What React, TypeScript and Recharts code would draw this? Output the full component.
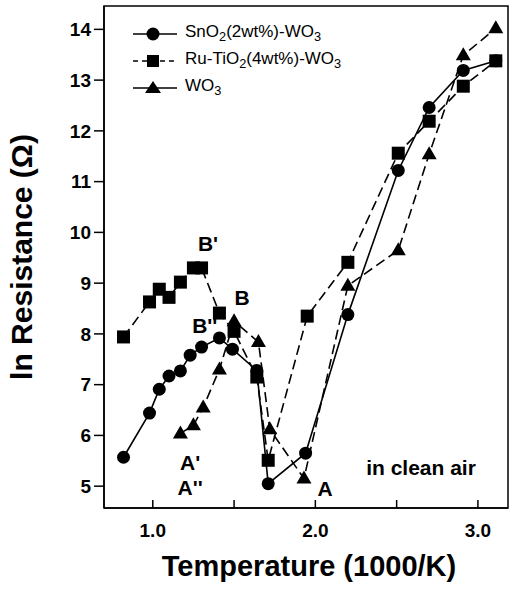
import React from 'react';
import { ComposedChart, Line, Scatter, XAxis, YAxis, ReferenceArea, Legend, Label } from 'recharts';

// SnO2(2wt%)-WO3
const snX = [0.82, 0.98, 1.04, 1.1, 1.17, 1.23, 1.3, 1.41, 1.49, 1.64, 1.71, 1.94, 2.2, 2.51, 2.7, 2.91, 3.11];
const snY = [5.57, 6.44, 6.91, 7.17, 7.27, 7.58, 7.74, 7.92, 7.7, 7.28, 5.05, 5.65, 8.38, 11.22, 12.46, 13.19, 13.38];

// Ru-TiO2(4wt%)-WO3
const ruX = [0.82, 0.98, 1.04, 1.1, 1.17, 1.25, 1.3, 1.41, 1.5, 1.64, 1.71, 1.95, 2.2, 2.51, 2.7, 2.91, 3.11];
const ruY = [7.94, 8.63, 8.88, 8.72, 9.02, 9.3, 9.3, 8.41, 8.05, 7.15, 5.51, 8.35, 9.41, 11.56, 12.19, 12.88, 13.38];

// WO3
const woX = [1.17, 1.25, 1.31, 1.41, 1.5, 1.65, 1.72, 1.93, 2.2, 2.51, 2.7, 2.91, 3.11];
const woY = [6.04, 6.2, 6.55, 7.3, 8.25, 7.84, 6.12, 5.15, 8.95, 9.65, 11.54, 13.49, 14.02];

const xTicks = [1.0, 1.5, 2.0, 2.5, 3.0];
const xLabelled = [1.0, 2.0, 3.0];
const yTicks = [5, 6, 7, 8, 9, 10, 11, 12, 13, 14];

// annotations in the plot
const noteX = [1.34, 1.55, 1.32, 1.23, 1.23, 2.06, 2.65];
const noteY = [9.79, 8.72, 8.17, 5.47, 4.98, 4.96, 5.37];
const noteText = ["B'", 'B', "B''", "A'", "A''", 'A', 'in clean air'];

const X_DOMAIN = [0.7, 3.185];
const Y_DOMAIN = [4.57, 14.46];

const FONT = '"Liberation Sans", Arial, Helvetica, sans-serif';

const zip = (xs: number[], ys: number[]) => xs.map((x, i) => ({ x, y: ys[i] }));
const snData = zip(snX, snY);
const ruData = zip(ruX, ruY);
const woData = zip(woX, woY);
const notes = noteX.map((x, i) => ({ x, y: noteY[i], t: noteText[i] }));

const CircleDot = (p: any) => (
  <circle key={`c${p.index}`} cx={p.cx} cy={p.cy} r={6.5} fill="#000" />
);
const SquareDot = (p: any) => (
  <rect key={`s${p.index}`} x={p.cx - 6.5} y={p.cy - 6.5} width={13} height={13} fill="#000" />
);
const TriDot = (p: any) => (
  <path
    key={`t${p.index}`}
    d={`M${p.cx},${p.cy - 8} L${p.cx + 7.5},${p.cy + 5} L${p.cx - 7.5},${p.cy + 5} Z`}
    fill="#000"
  />
);

const XTick = ({ x, y, payload }: any) => (
  <g>
    <line x1={x} x2={x} y1={y} y2={y - 8} stroke="#000" strokeWidth={1.5} />
    {xLabelled.includes(payload.value) && (
      <text x={x} y={y + 29} textAnchor="middle" fontFamily={FONT} fontWeight="bold" fontSize={19} fill="#000">
        {payload.value.toFixed(1)}
      </text>
    )}
  </g>
);

const legendItems = [
  { key: 'sn', dash: undefined, icon: 'circle', label: <>SnO<sub>2</sub>(2wt%)-WO<sub>3</sub></> },
  { key: 'ru', dash: '5 4', icon: 'square', label: <>Ru-TiO<sub>2</sub>(4wt%)-WO<sub>3</sub></> },
  { key: 'wo', dash: undefined, icon: 'triangle', label: <>WO<sub>3</sub></> },
];

const LegendBox = () => (
  <div style={{ fontFamily: FONT, fontSize: 17, color: '#000' }}>
    {legendItems.map((it) => (
      <div key={it.key} style={{ display: 'flex', alignItems: 'center', height: 27 }}>
        <svg width={44} height={16} style={{ marginRight: 8 }}>
          <line x1={0} x2={44} y1={8} y2={8} stroke="#000" strokeWidth={1.5} strokeDasharray={it.dash} />
          {it.icon === 'circle' && <circle cx={20} cy={8} r={6.5} fill="#000" />}
          {it.icon === 'square' && <rect x={14} y={2} width={12} height={12} fill="#000" />}
          {it.icon === 'triangle' && <path d="M20,1 L28,13 L12,13 Z" fill="#000" />}
        </svg>
        <span style={{ lineHeight: 1, whiteSpace: 'nowrap' }}>{it.label}</span>
      </div>
    ))}
  </div>
);

export default function App() {
  return (
    <div style={{ position: 'absolute', left: 0, top: 0, background: '#fff' }}>
      <style>{'sub{font-size:0.75em;vertical-align:-0.3em;}'}</style>
      <ComposedChart width={513} height={590} margin={{ top: 6, right: 5, bottom: 0, left: 0 }}>
        <XAxis
          type="number"
          dataKey="x"
          domain={X_DOMAIN}
          allowDataOverflow
          ticks={xTicks}
          tick={<XTick />}
          tickLine={false}
          tickSize={0}
          tickMargin={0}
          axisLine={{ stroke: '#000', strokeWidth: 1.5 }}
          height={82}
        >
          <Label
            content={({ viewBox }: any) => (
              <text
                x={viewBox.x + viewBox.width / 2 + 3}
                y={viewBox.y + 68}
                textAnchor="middle"
                fontFamily={FONT}
                fontWeight="bold"
                fontSize={29}
                fill="#000"
              >
                Temperature (1000/K)
              </text>
            )}
          />
        </XAxis>
        <YAxis
          type="number"
          dataKey="y"
          domain={Y_DOMAIN}
          allowDataOverflow
          ticks={yTicks}
          width={104}
          tickSize={10}
          tickMargin={3}
          tick={{ fill: '#000', fontSize: 19, fontWeight: 'bold', fontFamily: FONT }}
          tickLine={{ stroke: '#000', strokeWidth: 1.5 }}
          axisLine={{ stroke: '#000', strokeWidth: 1.5 }}
        >
          <Label
            content={({ viewBox }: any) => (
              <text
                transform={`translate(${viewBox.x + 32}, ${viewBox.y + viewBox.height / 2}) rotate(-90)`}
                textAnchor="middle"
                fontFamily={FONT}
                fontWeight="bold"
                fontSize={30}
                fill="#000"
              >
                ln Resistance (Ω)
              </text>
            )}
          />
        </YAxis>
        <ReferenceArea
          x1={X_DOMAIN[0]}
          x2={X_DOMAIN[1]}
          y1={Y_DOMAIN[0]}
          y2={Y_DOMAIN[1]}
          fill="none"
          stroke="#000"
          strokeWidth={1.5}
          fillOpacity={0}
        />
        <Legend
          content={<LegendBox />}
          layout="horizontal"
          verticalAlign="middle"
          align="center"
          wrapperStyle={{ position: 'absolute', top: 20, left: 133, width: 'auto' }}
        />
        <Line
          data={snData}
          dataKey="y"
          name="SnO2(2wt%)-WO3"
          type="linear"
          stroke="#000"
          strokeWidth={1.6}
          dot={CircleDot}
          activeDot={false}
          isAnimationActive={false}
        />
        <Line
          data={ruData}
          dataKey="y"
          name="Ru-TiO2(4wt%)-WO3"
          type="linear"
          stroke="#000"
          strokeWidth={1.6}
          strokeDasharray="10 5"
          dot={SquareDot}
          activeDot={false}
          isAnimationActive={false}
        />
        <Line
          data={woData}
          dataKey="y"
          name="WO3"
          type="linear"
          stroke="#000"
          strokeWidth={1.6}
          strokeDasharray="10 5"
          dot={TriDot}
          activeDot={false}
          isAnimationActive={false}
        />
        <Scatter
          data={notes}
          dataKey="y"
          legendType="none"
          isAnimationActive={false}
          shape={(p: any) => (
            <text
              x={p.cx}
              y={p.cy}
              textAnchor="middle"
              dominantBaseline="central"
              fontFamily={FONT}
              fontWeight="bold"
              fontSize={21}
              fill="#000"
            >
              {p.payload.t}
            </text>
          )}
        />
      </ComposedChart>
    </div>
  );
}
